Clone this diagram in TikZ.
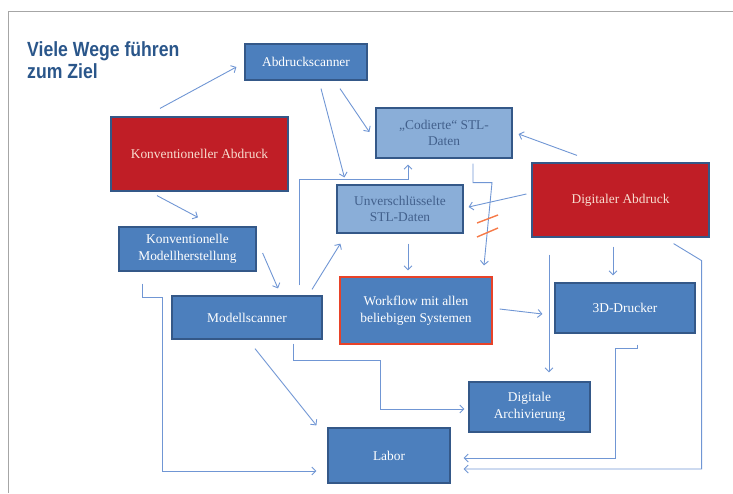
\documentclass[tikz,border=0pt]{standalone}
\usepackage{fontspec}
\setmainfont{Liberation Serif}
\newfontfamily\titlefont[FakeStretch=0.86]{Liberation Sans}
\usetikzlibrary{arrows.meta}
\tikzset{>={Straight Barb[length=4pt,width=8pt]}}
\definecolor{boxblue}{RGB}{76,127,189}
\definecolor{boxline}{RGB}{52,88,136}
\definecolor{redfill}{RGB}{192,30,38}
\definecolor{redtext}{RGB}{248,222,208}
\definecolor{lightfill}{RGB}{138,174,216}
\definecolor{lighttext}{RGB}{66,96,140}
\definecolor{arrowblue}{RGB}{112,150,212}
\definecolor{wfline}{RGB}{232,66,40}
\definecolor{titleblue}{RGB}{42,86,138}
\definecolor{slashred}{RGB}{246,122,72}
\tikzstyle{box}=[draw=boxline,line width=1.2pt,align=center,inner sep=2pt,
  font=\fontsize{13.4}{16.5}\selectfont]
\tikzstyle{bluebox}=[box,fill=boxblue,text=white]
\tikzstyle{redbox}=[box,fill=redfill,text=redtext]
\tikzstyle{lightbox}=[box,fill=lightfill,text=lighttext]
\tikzstyle{flow}=[->,arrowblue,line width=0.9pt]
\tikzstyle{slash}=[slashred,line width=1.4pt]

\begin{document}
\begin{tikzpicture}[x=1pt,y=-1pt]
  \useasboundingbox (0,0) rectangle (733,493);
  \draw[black!35,line width=1pt] (8,493) -- (8,11) -- (733,11); % frame

  \node[anchor=north west,inner sep=0pt,align=left,text=titleblue,
    font=\titlefont\bfseries\fontsize{20.5}{22}\selectfont] (title) at (27,41.5)
    {Viele Wege führen\\zum Ziel};

  % BOXES
  \node[bluebox,minimum width=122pt,minimum height=36pt] (scanA) at (306,62) {Abdruckscanner};
  \node[redbox,minimum width=177pt,minimum height=74pt] (konvA) at (199.5,154) {Konventioneller Abdruck};
  \node[bluebox,minimum width=137pt,minimum height=44pt] (konvM) at (187.5,249) {Konventionelle\\Modellherstellung};
  \node[bluebox,minimum width=150pt,minimum height=43pt] (scanM) at (247,317.5) {Modellscanner};
  \node[lightbox,minimum width=136pt,minimum height=50pt] (stlC) at (444,133) {„Codierte“ STL-\\Daten};
  \node[lightbox,minimum width=126pt,minimum height=48pt] (stlU) at (400,209) {Unverschlüsselte\\STL-Daten};
  \node[redbox,minimum width=177pt,minimum height=74pt] (digA) at (620.5,200) {Digitaler Abdruck};
  \node[bluebox,draw=wfline,minimum width=152pt,minimum height=67pt] (work) at (416,310.5) {Workflow mit allen\\beliebigen Systemen};
  \node[bluebox,minimum width=140pt,minimum height=50pt] (druck) at (625,308) {3D-Drucker};
  \node[bluebox,minimum width=121pt,minimum height=50pt] (archiv) at (529.5,407) {Digitale\\Archivierung};
  \node[bluebox,minimum width=122pt,minimum height=55pt] (labor) at (389,455.5) {Labor};

  % ARROWS
  \draw[flow] ([shift={(-39.5,-8)}]konvA.north) -- ([shift={(-8,5)}]scanA.west);
  \draw[flow] ([shift={(34,8)}]scanA.south) -- ([shift={(-6,-1)}]stlC.west);
  \draw[flow] ([shift={(15,8)}]scanA.south) -- ([shift={(8,-7)}]stlU.north west);
  \draw[flow] ([shift={(-42.5,4)}]konvA.south) -- ([shift={(10.5,-9)}]konvM.north);
  \draw[flow] ([shift={(6,4)}]konvM.east) -- ([shift={(31,-7)}]scanM.north);
  \draw[flow] ([shift={(52,-10)}]scanM.north) -- ++(0,-106) -| ([shift={(-36,6)}]stlC.south);
  \draw[flow] ([shift={(65,-6)}]scanM.north) -- ([shift={(4,10)}]stlU.south west);
  \draw[flow] ([shift={(29,5)}]stlC.south) -- ++(0,19) -- ++(19,0) -- ([shift={(68,-11)}]work.north);
  \draw[slash] (477,223) -- (498,215);
  \draw[slash] (477,237) -- (498,228);
  \draw[flow] ([shift={(-43.5,-7)}]digA.north) -- ([shift={(6,1)}]stlC.east);
  \draw[flow] ([shift={(-5,-6)}]digA.west) -- ([shift={(5,-2)}]stlU.east);
  \draw[flow] ([shift={(8,10)}]stlU.south) -- ([shift={(-8,-6)}]work.north);
  \draw[flow] ([shift={(7,-1.5)}]work.east) -- ([shift={(-12,6)}]druck.west);
  \draw[flow] ([shift={(-7.5,9)}]digA.south) -- ([shift={(-12,-7)}]druck.north);
  \draw[flow] ([shift={(-71.5,17)}]digA.south) -- ([shift={(19.5,-9)}]archiv.north);
  \draw[flow] ([shift={(-36,6)}]digA.south east) -- ++(28,17) |- ([shift={(13,13.5)}]labor.east);
  \draw[flow] ([shift={(12,11)}]druck.south) -- ++(0,4) -- ++(-22,0) |- ([shift={(13,2.5)}]labor.east);
  \draw[flow] ([shift={(46,4)}]scanM.south) -- ++(0,17) -- ++(87,0) |- ([shift={(-4,2)}]archiv.west);
  \draw[flow] ([shift={(8,9)}]scanM.south) -- ([shift={(-11,-2)}]labor.north west);
  \draw[flow] ([shift={(-45.5,12)}]konvM.south) -- ++(0,14) -- ++(20,0) |- ([shift={(-11,15.5)}]labor.west);
\end{tikzpicture}
\end{document}
